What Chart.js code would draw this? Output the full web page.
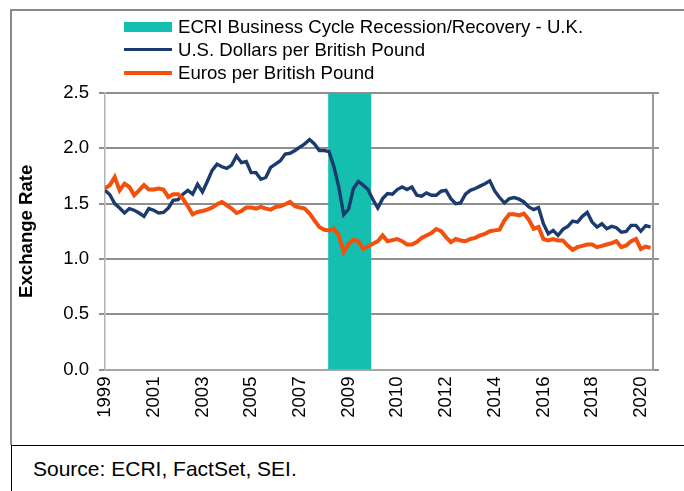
<!DOCTYPE html>
<html>
<head>
<meta charset="utf-8">
<script src="https://cdn.jsdelivr.net/npm/chart.js@4/dist/chart.umd.min.js"></script>
<style>
  body { margin: 0; background: #fff; font-family: "Liberation Sans", Arial, sans-serif; }
  #frame { position: absolute; left: 10px; top: 9px; width: 672px; height: 434px; border: 2px solid #8a8a8a; border-bottom: none; }
  #chart { position: absolute; left: 0; top: 0; }
  #legend { position: absolute; left: 0; top: 15px; }
  .row { position: absolute; left: 124px; height: 23px; display: flex; align-items: center; white-space: nowrap; }
  .mark { width: 48px; margin-right: 6px; }
  .row span { font-size: 18.6px; line-height: 23px; color: #000; }
  #source { position: absolute; left: 11px; top: 445px; width: 680px; height: 60px; border: 1px solid #000; }
  #source span { position: absolute; left: 21px; top: 12px; font-size: 21px; line-height: 21px; color: #000; }
</style>
</head>
<body>
<div id="frame"></div>
<canvas id="chart" width="684" height="445"></canvas>
<div id="legend"></div>
<div id="source"><span>Source: ECRI, FactSet, SEI.</span></div>
<script>
// evenly spaced observations, 10 per labelled tick
const tickLabels = ["1999", "2001", "2003", "2005", "2007", "2009", "2010", "2012", "2014", "2016", "2018", "2020"];
const pointsPerTick = 10;

const usdPerGbp = [
  1.62, 1.58, 1.50, 1.46, 1.415, 1.455, 1.44, 1.415, 1.385, 1.455,
  1.44, 1.415, 1.42, 1.46, 1.53, 1.536, 1.585, 1.62, 1.585, 1.676,
  1.606, 1.70, 1.80, 1.857, 1.833, 1.818, 1.848, 1.93, 1.87, 1.88,
  1.78, 1.78, 1.72, 1.736, 1.827, 1.857, 1.888, 1.948, 1.955, 1.98,
  2.01, 2.04, 2.08, 2.04, 1.98, 1.98, 1.97, 1.833, 1.65, 1.40,
  1.45, 1.636, 1.70, 1.667, 1.627, 1.536, 1.46, 1.545, 1.59, 1.585,
  1.627, 1.65, 1.627, 1.65, 1.576, 1.567, 1.597, 1.576, 1.576, 1.612,
  1.62, 1.545, 1.50, 1.506, 1.585, 1.62, 1.636, 1.658, 1.68, 1.706,
  1.615, 1.555, 1.506, 1.545, 1.555, 1.54, 1.515, 1.47, 1.445, 1.464,
  1.318, 1.227, 1.258, 1.212, 1.267, 1.294, 1.342, 1.333, 1.385, 1.42,
  1.333, 1.288, 1.318, 1.273, 1.294, 1.282, 1.242, 1.248, 1.303, 1.303,
  1.25, 1.30, 1.29
];

const eurPerGbp = [
  1.636, 1.667, 1.74, 1.62, 1.68, 1.65, 1.576, 1.62, 1.667, 1.627,
  1.627, 1.636, 1.627, 1.56, 1.585, 1.585, 1.545, 1.476, 1.403, 1.424,
  1.433, 1.445, 1.464, 1.494, 1.515, 1.485, 1.455, 1.415, 1.433, 1.464,
  1.464, 1.455, 1.47, 1.455, 1.445, 1.47, 1.476, 1.494, 1.515, 1.476,
  1.464, 1.455, 1.41, 1.348, 1.288, 1.264, 1.258, 1.273, 1.212, 1.06,
  1.136, 1.173, 1.16, 1.09, 1.112, 1.136, 1.16, 1.212, 1.16, 1.17,
  1.18, 1.16, 1.13, 1.13, 1.152, 1.19, 1.212, 1.233, 1.27, 1.25,
  1.197, 1.152, 1.18, 1.167, 1.16, 1.18, 1.19, 1.212, 1.227, 1.25,
  1.258, 1.264, 1.348, 1.403, 1.403, 1.394, 1.41, 1.355, 1.273, 1.288,
  1.18, 1.167, 1.18, 1.167, 1.167, 1.121, 1.082, 1.106, 1.118, 1.13,
  1.13, 1.106, 1.118, 1.13, 1.142, 1.16, 1.106, 1.121, 1.16, 1.18,
  1.09, 1.112, 1.10
];

// recession/recovery period, in observation index units
const recessionStart = [45.8];
const recessionEnd = [54.7];

const yMax = 2.5;
const xMax = 112.5;

const teal = "#15BFB0";
const navy = "#1B3B6F";
const orange = "#F2500C";
const gridGray = "#8f8f8f";

const toPoints = (arr) => arr.map((v, i) => ({ x: i, y: v }));

Chart.defaults.font.family = '"Liberation Sans", Arial, sans-serif';
Chart.defaults.color = "#000";

const chart = new Chart(document.getElementById("chart"), {
  type: "line",
  data: {
    datasets: [
      {
        label: "ECRI Business Cycle Recession/Recovery - U.K.",
        data: recessionStart.flatMap((s, k) => [{ x: s, y: yMax }, { x: recessionEnd[k], y: yMax }]),
        backgroundColor: teal,
        borderWidth: 0,
        pointRadius: 0,
        fill: "origin",
        order: 3,
        legendKind: "box"
      },
      {
        label: "U.S. Dollars per British Pound",
        data: toPoints(usdPerGbp),
        borderColor: navy,
        borderWidth: 3.4,
        pointRadius: 0,
        tension: 0,
        order: 2,
        legendKind: "line"
      },
      {
        label: "Euros per British Pound",
        data: toPoints(eurPerGbp),
        borderColor: orange,
        borderWidth: 4,
        pointRadius: 0,
        tension: 0,
        order: 1,
        legendKind: "line"
      }
    ]
  },
  options: {
    responsive: false,
    animation: false,
    layout: { padding: { left: 12, right: 21, top: 93, bottom: 15.5 } },
    plugins: {
      legend: { display: false },
      tooltip: { enabled: false }
    },
    scales: {
      x: {
        type: "linear",
        min: 0,
        max: xMax,
        afterBuildTicks: (s) => {
          s.ticks = tickLabels.map((_, k) => ({ value: k * pointsPerTick }));
        },
        afterFit: (s) => { s.height = 60; },
        grid: { display: false, drawTicks: false },
        border: { display: true, color: "#a6a6a6", width: 2 },
        ticks: {
          autoSkip: false,
          minRotation: 90,
          maxRotation: 90,
          padding: 7,
          font: { size: 18.6 },
          callback: (v) => tickLabels[Math.round(v / pointsPerTick)]
        }
      },
      y: {
        min: 0,
        max: yMax,
        afterFit: (s) => { s.width = 93; },
        ticks: {
          stepSize: 0.5,
          padding: 10,
          font: { size: 18.6 },
          callback: (v) => v.toFixed(1)
        },
        grid: { color: gridGray, lineWidth: 2, tickLength: 6 },
        border: { display: true, color: "#b3b3b3", width: 1.5 },
        title: {
          display: true,
          text: "Exchange Rate",
          font: { size: 18.6, weight: "bold" }
        }
      },
      y2: {
        position: "right",
        min: 0,
        max: yMax,
        afterFit: (s) => { s.width = 10; },
        ticks: { display: false, stepSize: 0.5 },
        grid: { drawOnChartArea: false, color: gridGray, lineWidth: 2, tickLength: 6 },
        border: { display: true, color: "#9a9a9a", width: 2 }
      }
    }
  }
});

// legend stacked in rows above the plot, built from the datasets
const legendEl = document.getElementById("legend");
chart.data.datasets.forEach((ds, k) => {
  const row = document.createElement("div");
  row.className = "row";
  row.style.top = (k * 23) + "px";
  const mark = document.createElement("div");
  mark.className = "mark";
  if (ds.legendKind === "box") {
    mark.style.height = "10px";
    mark.style.background = ds.backgroundColor;
  } else {
    mark.style.height = Math.round(ds.borderWidth) + "px";
    mark.style.background = ds.borderColor;
  }
  const text = document.createElement("span");
  text.textContent = ds.label;
  row.appendChild(mark);
  row.appendChild(text);
  legendEl.appendChild(row);
});
</script>
</body>
</html>
